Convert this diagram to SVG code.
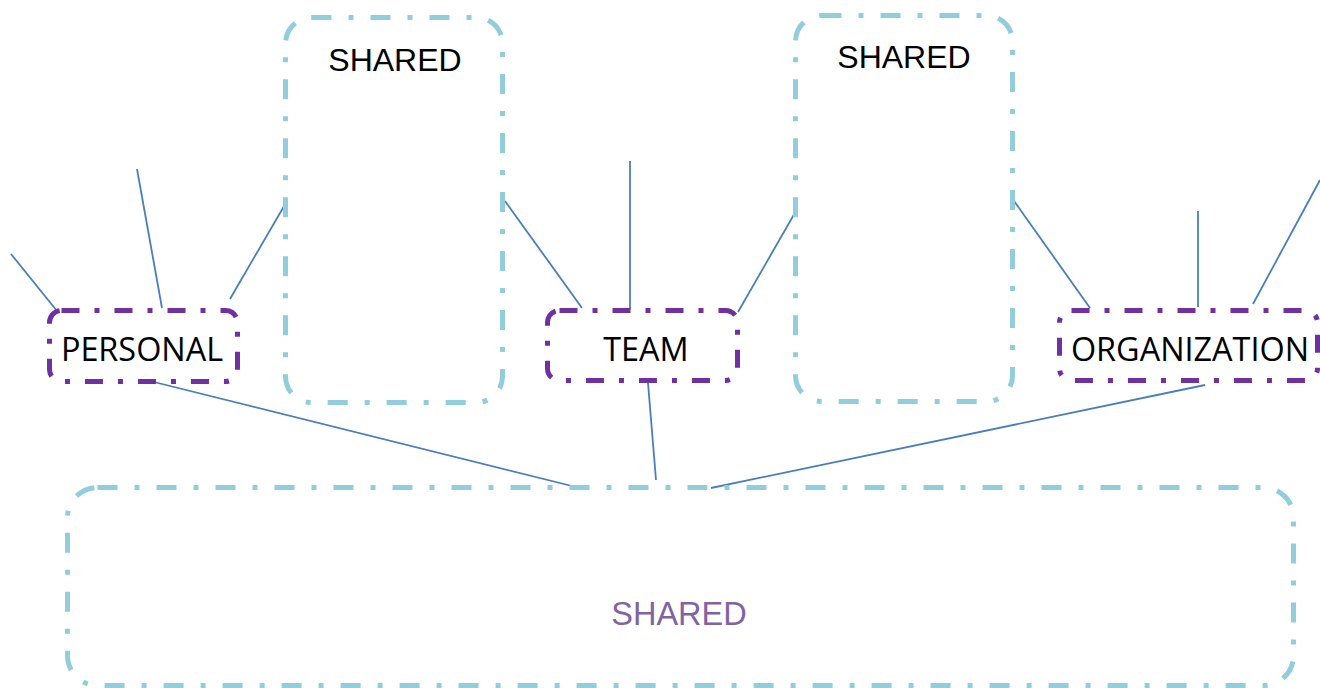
<svg xmlns="http://www.w3.org/2000/svg" width="1320" height="688" viewBox="0 0 1320 688">
  <style>
    .shared { fill: none; stroke: #92CDDC; stroke-width: 5; stroke-dasharray: 20 17 5 17; }
    .scope { fill: none; stroke: #7030A0; stroke-width: 5; stroke-dasharray: 18 15 5 15; }
    .link { stroke: #4A7EBB; stroke-width: 1.8; fill: none; }
    .lbl-shared { font-family: "Liberation Sans", Arial, sans-serif; font-size: 32px; fill: #000; text-anchor: middle; }
    .lbl-scope { font-family: "Open Sans", "Noto Sans", sans-serif; font-size: 32.4px; fill: #000; text-anchor: middle; }
    .lbl-common { font-family: "Liberation Sans", Arial, sans-serif; font-size: 32.5px; fill: #8064A2; text-anchor: middle; }
  </style>
  <rect width="1320" height="688" fill="#fff"/>

  <g id="connectors">
    <line class="link" x1="11" y1="254" x2="57" y2="311"/>
    <line class="link" x1="137" y1="169" x2="162" y2="308"/>
    <line class="link" x1="287" y1="201" x2="230" y2="299"/>
    <line class="link" x1="154" y1="382" x2="580" y2="488"/>
    <line class="link" x1="505" y1="201" x2="582" y2="308"/>
    <line class="link" x1="630" y1="161" x2="630" y2="309"/>
    <line class="link" x1="796" y1="211" x2="738" y2="312"/>
    <line class="link" x1="648" y1="383" x2="656" y2="480"/>
    <line class="link" x1="1014" y1="201" x2="1090" y2="308"/>
    <line class="link" x1="1198" y1="211" x2="1198" y2="307"/>
    <line class="link" x1="1320" y1="180" x2="1253" y2="304"/>
    <line class="link" x1="1205" y1="385" x2="711" y2="488"/>
  </g>

  <g id="shared-left">
    <rect class="shared" x="285.5" y="17.5" width="217" height="385" rx="26"/>
    <text class="lbl-shared" x="395" y="71">SHARED</text>
  </g>

  <g id="shared-right">
    <rect class="shared" x="795.5" y="15.5" width="217" height="386" rx="26"/>
    <text class="lbl-shared" x="904" y="68">SHARED</text>
  </g>

  <g id="shared-common">
    <rect class="shared" x="67.5" y="487.5" width="1226" height="198" rx="30"/>
    <text class="lbl-common" x="679" y="625">SHARED</text>
  </g>

  <g id="personal">
    <rect class="scope" x="49.5" y="310.5" width="188" height="71" rx="12"/>
    <text class="lbl-scope" x="142" y="361">PERSONAL</text>
  </g>

  <g id="team">
    <rect class="scope" x="547.5" y="310.5" width="190" height="70" rx="12"/>
    <text class="lbl-scope" x="646" y="361">TEAM</text>
  </g>

  <g id="organization">
    <rect class="scope" x="1059.5" y="310.5" width="258" height="70" rx="12"/>
    <text class="lbl-scope" x="1190" y="361">ORGANIZATION</text>
  </g>
</svg>
